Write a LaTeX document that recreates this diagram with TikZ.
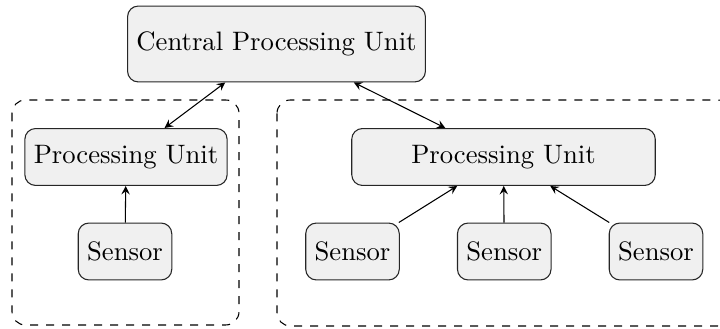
\documentclass[tikz,border=0pt]{standalone}
\usetikzlibrary{positioning}

\begin{document}
\begin{tikzpicture}[
    x=0.375pt, y=-0.375pt,
    unit/.style={draw=black!85, fill=black!6, rounded corners=4pt, minimum height=0.75cm},
    cpu/.style={unit, minimum height=1cm},
    group/.style={draw=black, dashed, rounded corners=5pt},
    link/.style={-stealth}
  ]

\useasboundingbox (0,0) rectangle (720,329);

% Central unit
\node[cpu] (cpu) at (276.5,44) {Central Processing Unit};

% Left group
\node[unit] (pu-l) at (126,157) {Processing Unit};
\node[unit] (s-l) at (125,251.5) {Sensor};

% Right group
\node[unit, minimum width=4cm] (pu-r) at (503.5,157) {Processing Unit};
\node[unit] (s-r1) at (352.5,251.5) {Sensor};
\node[unit, right=2cm of s-r1.center, anchor=center] (s-r2) {Sensor};
\node[unit, right=2cm of s-r2.center, anchor=center] (s-r3) {Sensor};

% Dashed group frames
\coordinate (gl-nw) at (12,100);
\coordinate (gl-se) at (239,325);
\coordinate (gr-nw) at (277,100);
\coordinate (gr-se) at (731,326);
\draw[group] (gl-nw) rectangle (gl-se);
\draw[group] (gr-nw) rectangle (gr-se);

% Connections
\draw[link, stealth-stealth] (cpu) -- (pu-l);
\draw[link, stealth-stealth] (cpu) -- (pu-r);
\draw[link] (s-l) -- (pu-l);
\foreach \s in {s-r1,s-r2,s-r3}
    \draw[link] (\s) -- (pu-r);

\end{tikzpicture}
\end{document}
